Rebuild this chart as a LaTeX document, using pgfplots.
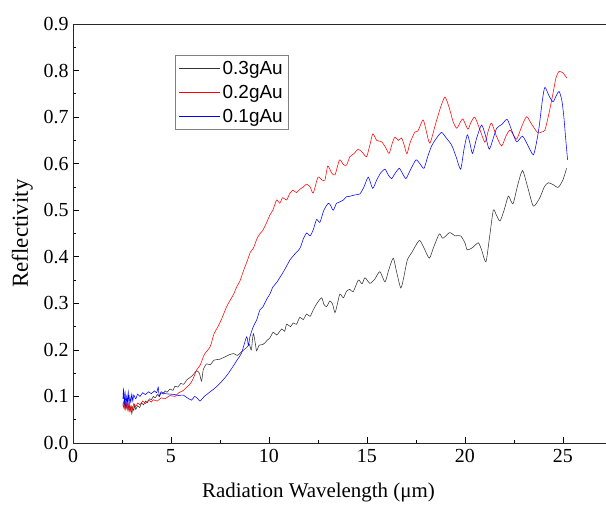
\documentclass[border=0pt]{standalone}
\usepackage{fontspec}
\setmainfont{Liberation Serif}
\newfontfamily\arialfont{Liberation Sans}
\usepackage{pgfplots}
\pgfplotsset{compat=1.18}
\begin{document}
\begin{tikzpicture}
\begin{axis}[
 at={(0,0)}, anchor=south west,
 scale only axis, width=533bp, height=419bp,
 xmin=0, xmax=27.2, ymin=0, ymax=0.9,
 axis x line*=bottom, axis y line*=left,
 axis line style={-, line width=0.8pt, black!85},
 tick align=inside,
 xtick={0,5,10,15,20,25}, minor x tick num=1,
 ytick={0,0.1,0.2,0.3,0.4,0.5,0.6,0.7,0.8,0.9}, minor y tick num=1,
 major tick length=6bp, minor tick length=3.5bp,
 tick style={line width=0.7pt, black},
 yticklabel style={/pgf/number format/fixed, /pgf/number format/fixed zerofill, /pgf/number format/precision=1, xshift=-1bp},
 /pgf/number format/assume math mode=true,
 ticklabel style={font=\fontsize{20}{20}\selectfont},
 xticklabel style={yshift=-3bp},
 xlabel={Radiation Wavelength (μm)}, ylabel={Reflectivity},
 xlabel style={font=\fontsize{21}{21}\selectfont, xshift=-21bp, yshift=-13bp},
 ylabel style={font=\fontsize{23}{23}\selectfont, yshift=4bp},
 legend style={at={(axis description cs:0.191,0.926)}, anchor=north west,
   draw=gray, line width=0.6pt, font=\arialfont\fontsize{19}{19}\selectfont,
   inner xsep=4bp, inner ysep=3.5bp, row sep=5.5bp, cells={anchor=west},
   every odd column/.append style={column sep=5bp}},
 legend image code/.code={\draw[line width=0.6pt, #1] (0bp,0bp) -- (41bp,0bp);},
 extra description/.code={\draw[line width=0.8pt, black!85] (axis description cs:0,1) -- (axis description cs:1,1);},
 every axis plot/.append style={line width=0.55pt, smooth, tension=0.4},
]
\addplot[color=black!80] coordinates {
(2.55,0.085)(2.6,0.075)(2.65,0.09)(2.7,0.072)(2.75,0.085)(2.8,0.07)(2.85,0.082)(2.9,0.068)(2.95,0.078)(3.0,0.063)(3.05,0.075)(3.1,0.07)(3.15,0.082)(3.2,0.072)(3.3,0.08)(3.4,0.076)(3.5,0.086)(3.6,0.082)(3.7,0.09)(3.8,0.087)(3.9,0.095)(4.0,0.093)(4.1,0.1)(4.2,0.097)(4.3,0.104)(4.4,0.1)(4.5,0.108)(4.6,0.105)(4.7,0.112)(4.8,0.109)(4.95,0.116)(5.1,0.113)(5.2,0.122)(5.35,0.12)(5.5,0.128)(5.65,0.126)(5.8,0.135)(6.1,0.145)(6.3,0.155)(6.45,0.15)(6.56,0.133)(6.65,0.158)(6.82,0.17)(7.0,0.168)(7.2,0.178)(7.5,0.18)(7.8,0.186)(8.0,0.19)(8.2,0.192)(8.4,0.188)(8.6,0.196)(8.86,0.205)(9.0,0.212)(9.1,0.2)(9.2,0.235)(9.3,0.215)(9.37,0.198)(9.5,0.21)(9.71,0.212)(9.9,0.22)(10.05,0.226)(10.22,0.238)(10.4,0.232)(10.65,0.245)(10.8,0.24)(10.9,0.255)(11.1,0.25)(11.24,0.258)(11.4,0.255)(11.58,0.27)(11.75,0.265)(11.92,0.277)(12.1,0.272)(12.26,0.286)(12.45,0.3)(12.69,0.312)(12.8,0.298)(12.94,0.293)(13.11,0.305)(13.25,0.298)(13.37,0.28)(13.5,0.3)(13.62,0.32)(13.8,0.312)(13.96,0.326)(14.13,0.33)(14.3,0.325)(14.56,0.35)(14.75,0.342)(14.9,0.355)(15.15,0.343)(15.4,0.352)(15.66,0.368)(15.92,0.346)(16.1,0.37)(16.34,0.397)(16.5,0.37)(16.73,0.333)(16.9,0.36)(17.06,0.393)(17.3,0.41)(17.67,0.435)(17.9,0.42)(18.18,0.397)(18.4,0.42)(18.69,0.449)(18.85,0.44)(18.98,0.443)(19.23,0.452)(19.5,0.445)(19.78,0.445)(20.0,0.43)(20.12,0.415)(20.4,0.42)(20.68,0.43)(20.85,0.415)(21.07,0.389)(21.25,0.44)(21.45,0.5)(21.6,0.49)(21.79,0.477)(22.0,0.5)(22.21,0.53)(22.35,0.52)(22.47,0.515)(22.7,0.555)(22.94,0.585)(23.2,0.55)(23.49,0.509)(23.8,0.525)(24.05,0.55)(24.25,0.559)(24.5,0.555)(24.76,0.549)(25.0,0.565)(25.19,0.59)
};
\addlegendentry{0.3gAu}
\addplot[color=red] coordinates {
(2.55,0.08)(2.6,0.09)(2.65,0.072)(2.7,0.086)(2.75,0.075)(2.8,0.088)(2.85,0.07)(2.9,0.082)(2.95,0.068)(3.0,0.08)(3.05,0.072)(3.1,0.085)(3.2,0.078)(3.3,0.086)(3.42,0.082)(3.55,0.09)(3.7,0.085)(3.85,0.092)(4.0,0.088)(4.1,0.093)(4.3,0.09)(4.5,0.097)(4.7,0.095)(4.95,0.102)(5.2,0.1)(5.4,0.108)(5.6,0.112)(5.8,0.12)(6.0,0.128)(6.15,0.14)(6.31,0.157)(6.5,0.168)(6.7,0.19)(7.0,0.207)(7.2,0.235)(7.4,0.25)(7.6,0.268)(7.84,0.293)(8.0,0.305)(8.2,0.32)(8.35,0.335)(8.52,0.348)(8.7,0.37)(8.9,0.392)(9.05,0.41)(9.2,0.418)(9.4,0.44)(9.55,0.45)(9.69,0.457)(9.9,0.475)(10.05,0.49)(10.2,0.5)(10.39,0.522)(10.55,0.515)(10.7,0.527)(10.9,0.522)(11.05,0.535)(11.22,0.543)(11.4,0.538)(11.58,0.545)(11.75,0.55)(11.92,0.556)(12.1,0.55)(12.26,0.537)(12.5,0.571)(12.7,0.565)(12.86,0.565)(13.0,0.595)(13.2,0.58)(13.37,0.576)(13.6,0.608)(13.8,0.598)(13.96,0.597)(14.13,0.615)(14.35,0.622)(14.55,0.631)(14.75,0.625)(14.98,0.615)(15.15,0.64)(15.3,0.664)(15.5,0.65)(15.75,0.647)(15.95,0.635)(16.13,0.622)(16.3,0.645)(16.43,0.657)(16.6,0.65)(16.77,0.655)(16.9,0.64)(17.04,0.621)(17.2,0.645)(17.45,0.668)(17.6,0.67)(17.86,0.694)(18.0,0.675)(18.21,0.644)(18.5,0.685)(18.75,0.72)(18.98,0.743)(19.2,0.72)(19.4,0.69)(19.58,0.676)(19.75,0.688)(19.9,0.696)(20.15,0.674)(20.3,0.688)(20.5,0.7)(20.75,0.675)(21.02,0.646)(21.2,0.672)(21.36,0.687)(21.6,0.66)(21.87,0.638)(22.1,0.66)(22.3,0.672)(22.5,0.66)(22.65,0.653)(22.9,0.68)(23.15,0.701)(23.4,0.685)(23.72,0.666)(23.9,0.668)(24.08,0.672)(24.3,0.71)(24.5,0.752)(24.65,0.785)(24.8,0.798)(25.0,0.795)(25.2,0.784)
};
\addlegendentry{0.2gAu}
\addplot[color=blue] coordinates {
(2.55,0.095)(2.58,0.115)(2.62,0.085)(2.66,0.108)(2.7,0.078)(2.74,0.1)(2.78,0.088)(2.82,0.11)(2.86,0.082)(2.9,0.1)(2.95,0.087)(3.0,0.105)(3.05,0.09)(3.1,0.103)(3.2,0.095)(3.3,0.105)(3.42,0.1)(3.55,0.108)(3.7,0.104)(3.85,0.11)(4.0,0.106)(4.15,0.112)(4.27,0.108)(4.35,0.12)(4.4,0.1)(4.5,0.11)(4.7,0.106)(4.95,0.105)(5.2,0.104)(5.4,0.102)(5.62,0.103)(5.8,0.098)(6.05,0.092)(6.2,0.1)(6.35,0.096)(6.48,0.09)(6.7,0.1)(7.0,0.11)(7.3,0.12)(7.65,0.135)(7.9,0.148)(8.16,0.164)(8.4,0.18)(8.6,0.193)(8.86,0.228)(8.95,0.21)(9.03,0.228)(9.2,0.25)(9.37,0.264)(9.54,0.286)(9.7,0.293)(9.9,0.31)(10.05,0.32)(10.2,0.335)(10.4,0.345)(10.55,0.355)(10.7,0.365)(10.9,0.38)(11.07,0.393)(11.3,0.405)(11.58,0.418)(11.75,0.438)(11.92,0.451)(12.1,0.445)(12.26,0.458)(12.43,0.48)(12.6,0.474)(12.8,0.5)(13.03,0.515)(13.15,0.51)(13.28,0.5)(13.45,0.515)(13.62,0.518)(13.8,0.522)(13.96,0.529)(14.13,0.53)(14.4,0.533)(14.64,0.535)(14.85,0.55)(15.07,0.571)(15.29,0.547)(15.5,0.565)(15.7,0.58)(15.92,0.588)(16.1,0.575)(16.26,0.568)(16.45,0.58)(16.65,0.59)(16.8,0.58)(16.99,0.568)(17.2,0.585)(17.5,0.608)(17.7,0.6)(17.91,0.59)(18.1,0.615)(18.3,0.638)(18.55,0.655)(18.81,0.667)(19.05,0.655)(19.32,0.64)(19.55,0.615)(19.78,0.588)(19.95,0.63)(20.12,0.662)(20.25,0.645)(20.39,0.622)(20.6,0.655)(20.85,0.683)(21.05,0.66)(21.24,0.631)(21.45,0.655)(21.62,0.676)(21.9,0.685)(22.16,0.695)(22.4,0.67)(22.64,0.647)(22.94,0.659)(23.2,0.64)(23.49,0.619)(23.65,0.645)(23.79,0.68)(23.95,0.735)(24.08,0.764)(24.3,0.745)(24.5,0.733)(24.65,0.745)(24.81,0.755)(24.95,0.735)(25.05,0.7)(25.15,0.65)(25.24,0.608)
};
\addlegendentry{0.1gAu}
\end{axis}
\pgfresetboundingbox
\useasboundingbox (-73bp,-62bp) rectangle (533bp,443bp);
\end{tikzpicture}
\end{document}
